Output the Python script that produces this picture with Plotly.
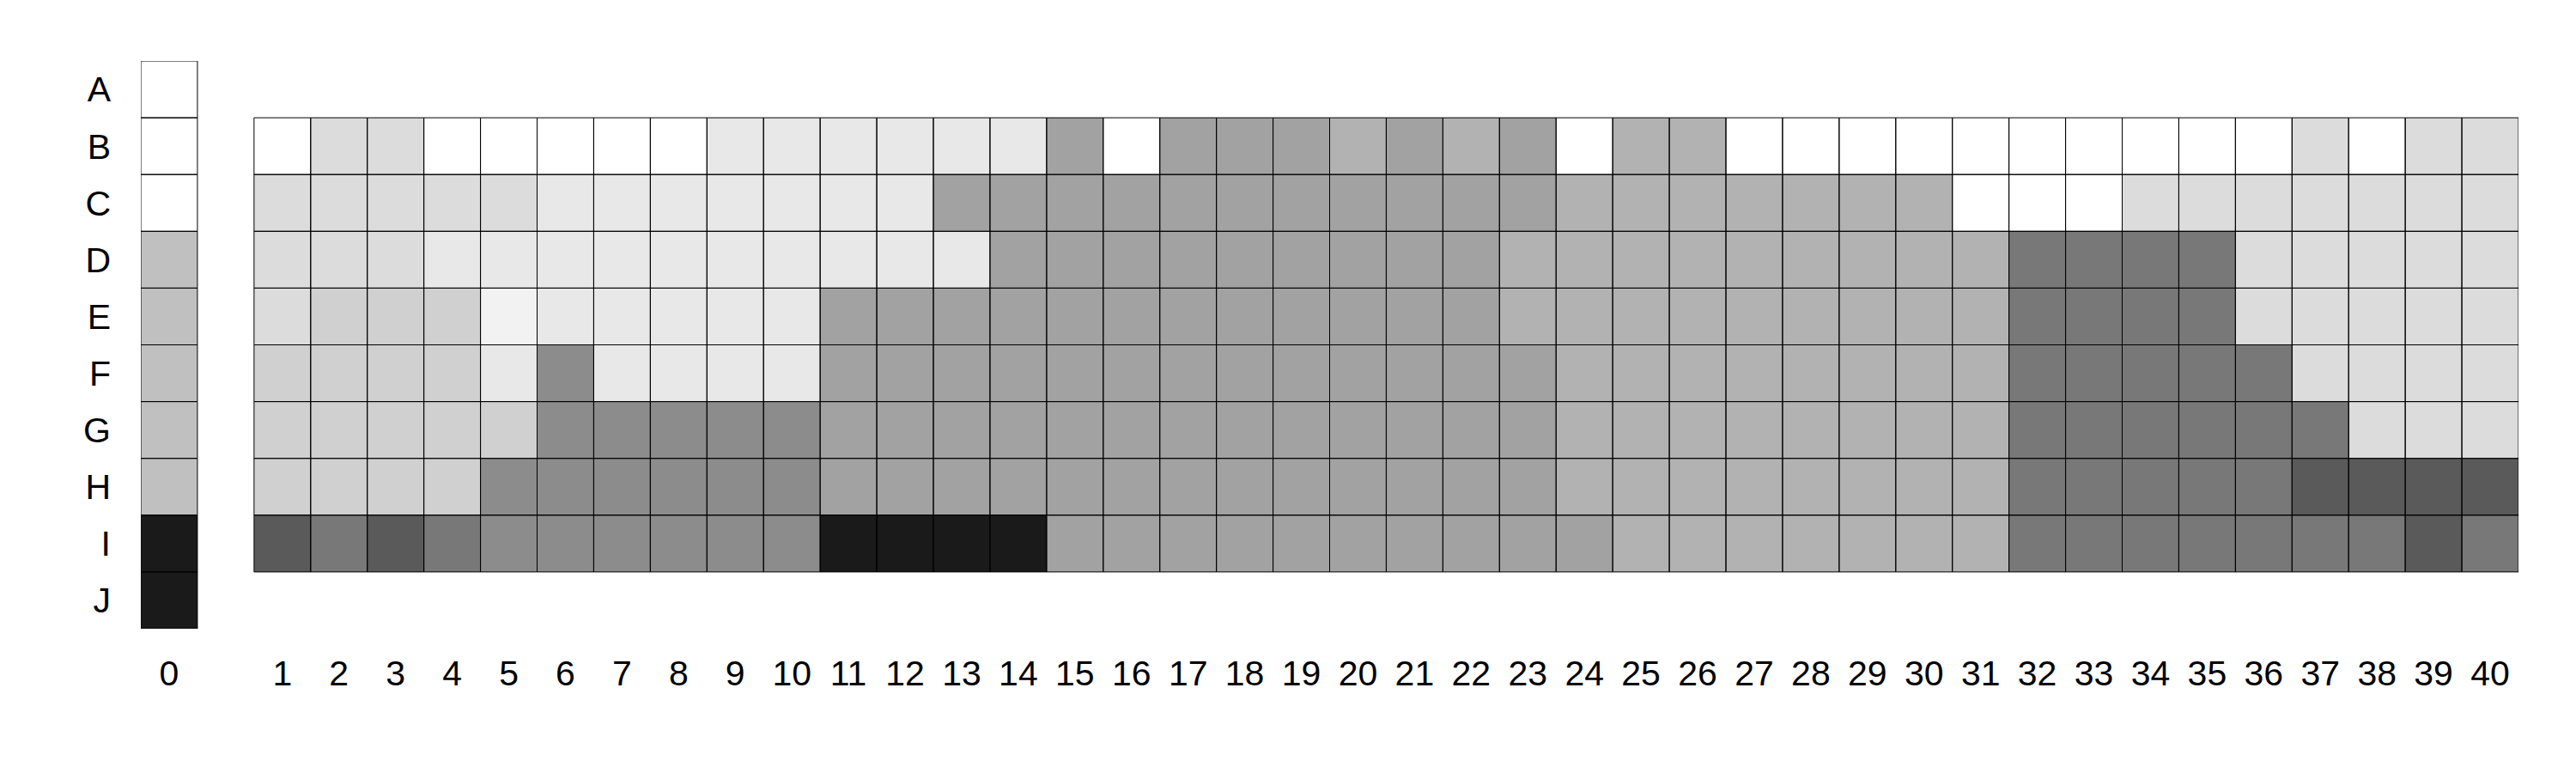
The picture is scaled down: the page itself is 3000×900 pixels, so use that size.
import plotly.graph_objects as go

# ---- data ----
row_labels = ["A", "B", "C", "D", "E", "F", "G", "H", "I", "J"]
col_labels = [str(i) for i in range(41)]  # "0" .. "40"

# shade levels (light -> dark) used as cell values
level_colors = ["#ffffff", "#f2f2f2", "#e8e8e8", "#dcdcdc", "#d0d0d0", "#c0c0c0",
                "#b2b2b2", "#a2a2a2", "#8c8c8c", "#787878", "#5a5a5a", "#1a1a1a"]

# column 0, rows A..J
col0_values = [0, 0, 0, 5, 5, 5, 5, 5, 11, 11]

# main grid, rows B..I, columns 1..40
grid_rows = ["B", "C", "D", "E", "F", "G", "H", "I"]
grid_values = [
    [0, 3, 3, 0, 0, 0, 0, 0, 2, 2, 2, 2, 2, 2, 7, 0, 7, 7, 7, 6, 7, 6, 7, 0, 6, 6, 0, 0, 0, 0, 0, 0, 0, 0, 0, 0, 3, 0, 3, 3],
    [3, 3, 3, 3, 3, 2, 2, 2, 2, 2, 2, 2, 7, 7, 7, 7, 7, 7, 7, 7, 7, 7, 7, 6, 6, 6, 6, 6, 6, 6, 0, 0, 0, 3, 3, 3, 3, 3, 3, 3],
    [3, 3, 3, 2, 2, 2, 2, 2, 2, 2, 2, 2, 2, 7, 7, 7, 7, 7, 7, 7, 7, 7, 6, 6, 6, 6, 6, 6, 6, 6, 6, 9, 9, 9, 9, 3, 3, 3, 3, 3],
    [3, 4, 4, 4, 1, 2, 2, 2, 2, 2, 7, 7, 7, 7, 7, 7, 7, 7, 7, 7, 7, 7, 6, 6, 6, 6, 6, 6, 6, 6, 6, 9, 9, 9, 9, 3, 3, 3, 3, 3],
    [4, 4, 4, 4, 2, 8, 2, 2, 2, 2, 7, 7, 7, 7, 7, 7, 7, 7, 7, 7, 7, 7, 7, 6, 6, 6, 6, 6, 6, 6, 6, 9, 9, 9, 9, 9, 3, 3, 3, 3],
    [4, 4, 4, 4, 4, 8, 8, 8, 8, 8, 7, 7, 7, 7, 7, 7, 7, 7, 7, 7, 7, 7, 7, 6, 6, 6, 6, 6, 6, 6, 6, 9, 9, 9, 9, 9, 9, 3, 3, 3],
    [4, 4, 4, 4, 8, 8, 8, 8, 8, 8, 7, 7, 7, 7, 7, 7, 7, 7, 7, 7, 7, 7, 7, 6, 6, 6, 6, 6, 6, 6, 6, 9, 9, 9, 9, 9, 10, 10, 10, 10],
    [10, 9, 10, 9, 8, 8, 8, 8, 8, 8, 11, 11, 11, 11, 7, 7, 7, 7, 7, 7, 7, 7, 7, 7, 6, 6, 6, 6, 6, 6, 6, 9, 9, 9, 9, 9, 9, 9, 10, 9],
]

# ---- build matrix: column 0 at slot 0, an empty slot, then columns 1..40 ----
n_slots = len(col_labels) + 1
slot_of_col = [0] + [c + 1 for c in range(1, len(col_labels))]
z = [[None] * n_slots for _ in row_labels]
for r, v in enumerate(col0_values):
    z[r][slot_of_col[0]] = v
for gi, rname in enumerate(grid_rows):
    r = row_labels.index(rname)
    for c, v in enumerate(grid_values[gi]):
        z[r][slot_of_col[c + 1]] = v

nlev = len(level_colors) - 1
colorscale = [[i / nlev, col] for i, col in enumerate(level_colors)]

fig = go.Figure()
fig.add_trace(go.Heatmap(
    z=z, x=list(range(n_slots)), y=list(range(len(row_labels))),
    colorscale=colorscale, zmin=0, zmax=nlev,
    showscale=False, hoverinfo="skip"))

# cell outlines, one per filled cell, in data coordinates
shapes = []
for r, row in enumerate(z):
    for s, v in enumerate(row):
        if v is None:
            continue
        shapes.append(dict(type="rect", xref="x", yref="y",
                           x0=s - 0.5, x1=s + 0.5, y0=r - 0.5, y1=r + 0.5,
                           line=dict(color="#000000", width=1),
                           fillcolor="rgba(0,0,0,0)", layer="above"))

font = dict(family="Liberation Sans, Arial, sans-serif", size=41, color="#000000")
# page body has an 8px default margin; compensate so the plot area lands at 164..2933 x 71..732
fig.update_layout(
    width=3000, height=900,
    margin=dict(l=156, r=75, t=63, b=176),
    paper_bgcolor="#ffffff", plot_bgcolor="#ffffff",
    font=font, shapes=shapes,
    xaxis=dict(range=[-0.5, n_slots - 0.5], tickmode="array",
               tickvals=slot_of_col, ticktext=col_labels,
               showgrid=False, zeroline=False, showline=False, ticks="",
               ticklabelstandoff=24, tickfont=font),
    yaxis=dict(range=[len(row_labels) - 0.5, -0.5], tickmode="array",
               tickvals=list(range(len(row_labels))), ticktext=row_labels,
               showgrid=False, zeroline=False,
               showline=False, ticks="", ticklabelstandoff=34, tickfont=font),
)

fig.write_html("out.html", config={"displayModeBar": False})
